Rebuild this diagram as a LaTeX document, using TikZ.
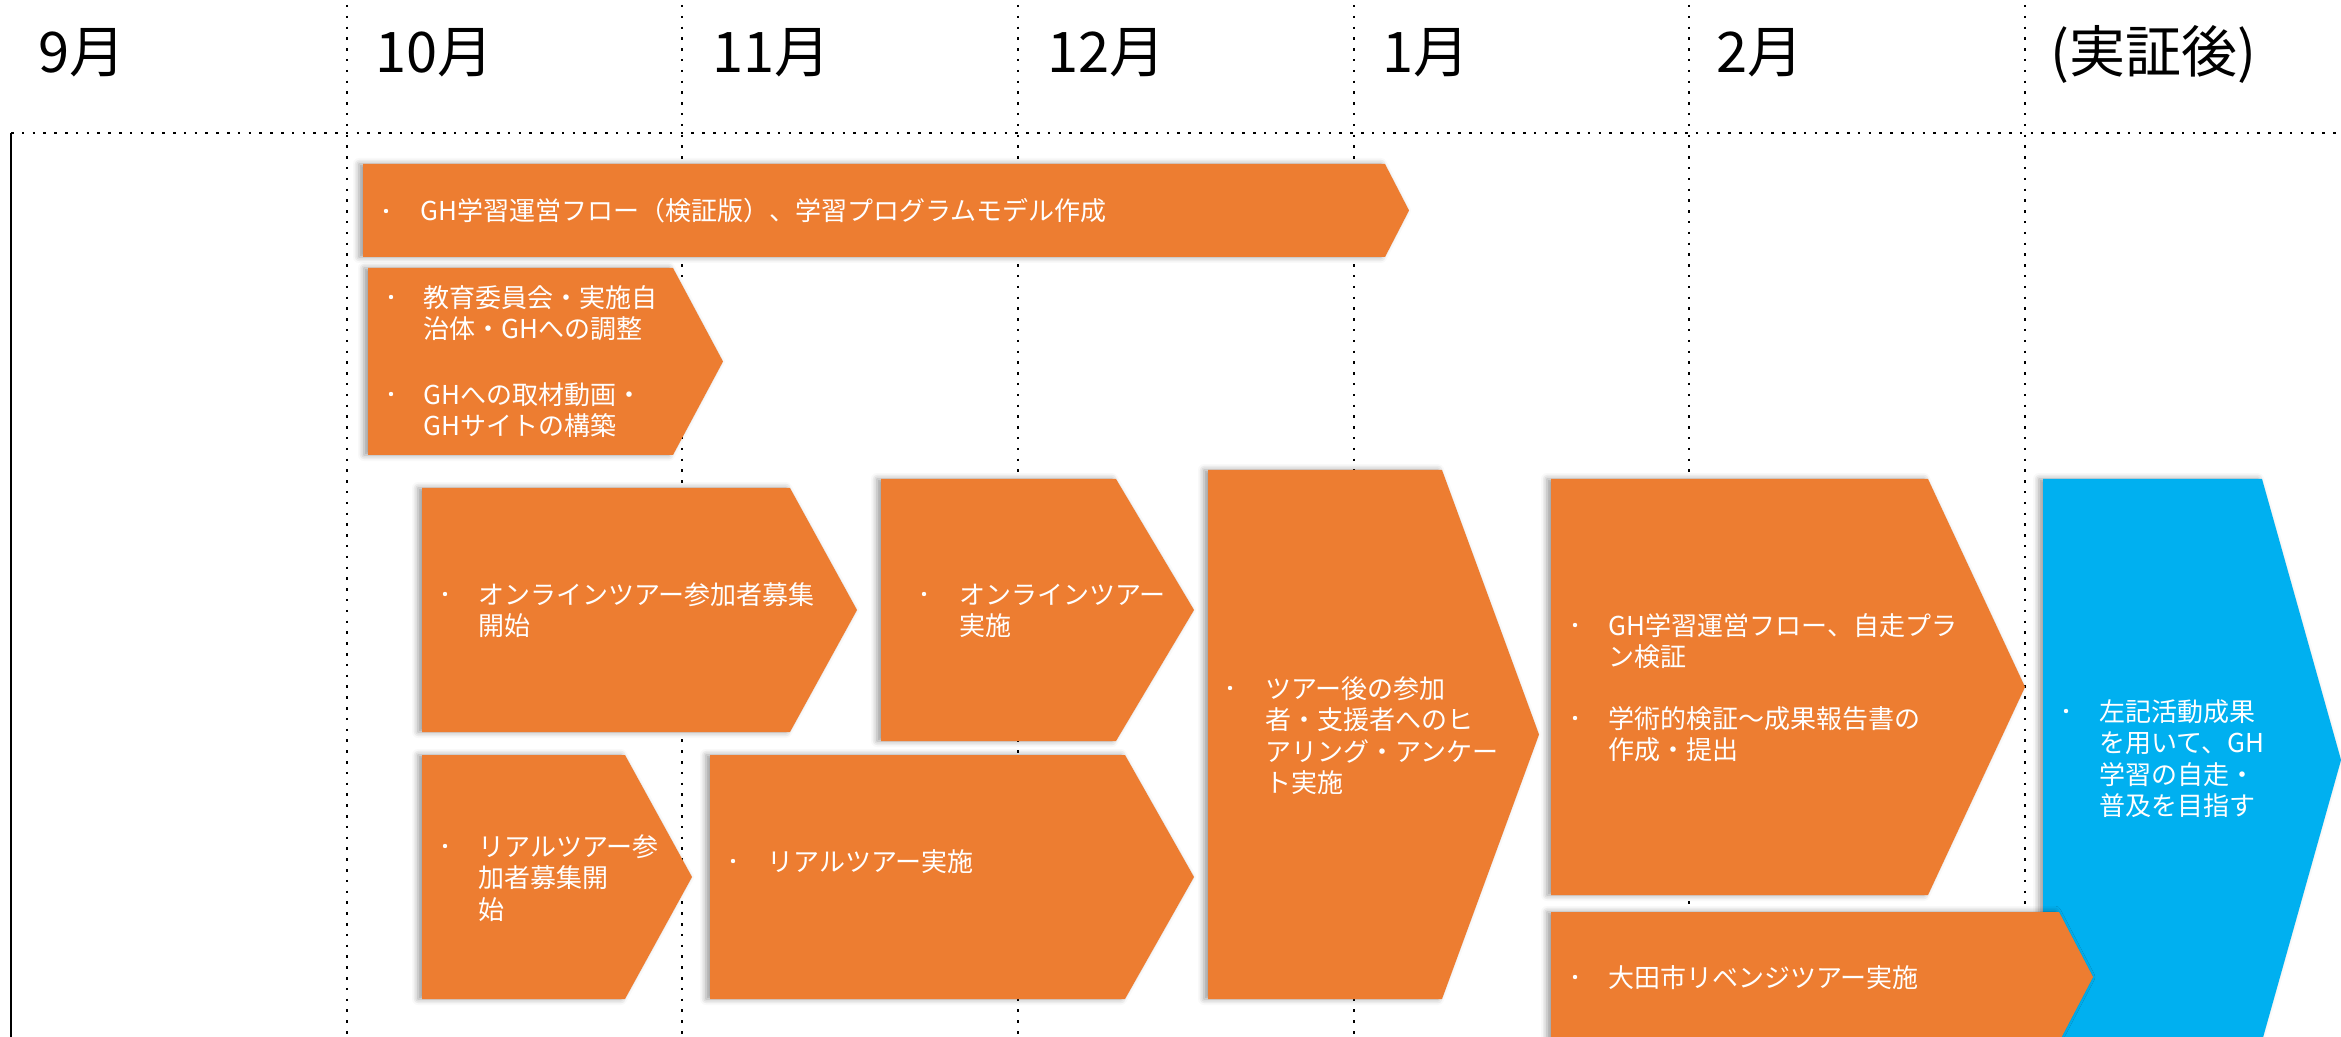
\documentclass[tikz,border=0pt]{standalone}
\usepackage{fontspec}
\setmainfont{Noto Sans CJK JP}
\usetikzlibrary{shadows.blur}
\definecolor{orng}{HTML}{ED7D31}
\definecolor{skyb}{HTML}{00B0F0}
\tikzset{
  gridline/.style={line width=1.25pt, dash pattern=on 1.25pt off 4.15pt},
  plate/.style={fill=#1, draw=none,
    blur shadow={shadow xshift=-2pt, shadow yshift=0pt, shadow blur radius=3pt, shadow opacity=40}},
  month/.style={anchor=base west, font=\fontsize{28}{34}\selectfont, inner sep=0pt},
  txt/.style={anchor=base west, text=white, align=left, inner sep=0pt, font=\fontsize{13}{15.75}\selectfont},
  bul/.style={circle, fill=white, inner sep=0pt, minimum size=2.2pt},
}
\newcommand\homeplate[7]{% name, x1, y1, xflat, xtip, y2, colour
  \path[plate=#7] (#2,#3) coordinate (#1-nw) -- (#4,#3) -- (#5,{(#3+#6)/2}) coordinate (#1-tip) -- (#4,#6) -- (#2,#6) -- cycle;
}
\begin{document}
\begin{tikzpicture}[x=0.5pt,y=-0.5pt]
\useasboundingbox (0,0) rectangle (2341,1037);
\clip (0,0) rectangle (2341,1037);
% grid
\coordinate (hl) at (11,133);
\coordinate (hr) at (2341,133);
\coordinate (vb) at (11,1037);
\draw[gridline] (hl) -- (hr);
\draw[line width=1pt] (hl) -- (vb);
\foreach \x [count=\i] in {347,682,1018,1354,1689,2025}{
  \coordinate (g\i t) at (\x,5);
  \coordinate (g\i b) at (\x,1037);
  \draw[gridline] (g\i t) -- (g\i b);
}
% month labels
\node[month] (m9) at (38,73) {9月};
\node[month] (m10) at (375,73) {10月};
\node[month] (m11) at (712,73) {11月};
\node[month] (m12) at (1047,73) {12月};
\node[month] (m1) at (1382,73) {1月};
\node[month] (m2) at (1716,73) {2月};
\node[month] (mpost) at (2050,73) {(実証後)};
% shapes
\homeplate{s1}{363}{164}{1385}{1409}{257}{orng}
\homeplate{s2}{368}{268}{673}{723}{455}{orng}
\homeplate{s3}{422}{488}{790}{857}{732}{orng}
\homeplate{s4}{881}{479}{1116}{1194}{741}{orng}
\homeplate{s5}{422}{755}{625}{692}{999}{orng}
\homeplate{s6}{710}{755}{1125}{1194}{999}{orng}
\homeplate{s7}{1208}{470}{1442}{1539}{999}{orng}
\homeplate{s8}{1551}{479}{1928}{2025}{895}{orng}
\homeplate{sb}{2043}{479}{2262}{2341}{1041}{skyb}
\homeplate{s9}{1551}{912}{2059}{2093}{1042}{orng}
% texts (anchor = baseline of the last line)
\node[bul] (b1) at (386,211) {};
\node[txt] (t1) at (420,221) {GH学習運営フロー（検証版）、学習プログラムモデル作成};
\node[bul] (b2a) at (391,297) {};
\node[txt] (t2a) at (423,339) {教育委員会・実施自\\治体・GHへの調整};
\node[bul] (b2b) at (391,394) {};
\node[txt] (t2b) at (423,436) {GHへの取材動画・\\GHサイトの構築};
\node[bul] (b3) at (445,594) {};
\node[txt] (t3) at (478,635.5) {オンラインツアー参加者募集\\開始};
\node[bul] (b4) at (924,594) {};
\node[txt] (t4) at (959,635.5) {オンラインツアー\\実施};
\node[bul] (b5) at (445,846) {};
\node[txt] (t5) at (478,919) {リアルツアー参\\加者募集開\\始};
\node[bul] (b6) at (733,861) {};
\node[txt] (t6) at (767,871) {リアルツアー実施};
\node[bul] (b7) at (1230,688) {};
\node[txt] (t7) at (1265,792.5) {ツアー後の参加\\者・支援者へのヒ\\アリング・アンケー\\ト実施};
\node[bul] (b8a) at (1575,625) {};
\node[txt] (t8a) at (1608,666.5) {GH学習運営フロー、自走プラ\\ン検証};
\node[bul] (b8b) at (1575,718) {};
\node[txt] (t8b) at (1608,759.5) {学術的検証～成果報告書の\\作成・提出};
\node[bul] (b9) at (1575,977) {};
\node[txt] (t9) at (1608,987) {大田市リベンジツアー実施};
\node[bul] (bb) at (2066,711) {};
\node[txt] (tb) at (2099,815.5) {左記活動成果\\を用いて、GH\\学習の自走・\\普及を目指す};
\end{tikzpicture}
\end{document}
